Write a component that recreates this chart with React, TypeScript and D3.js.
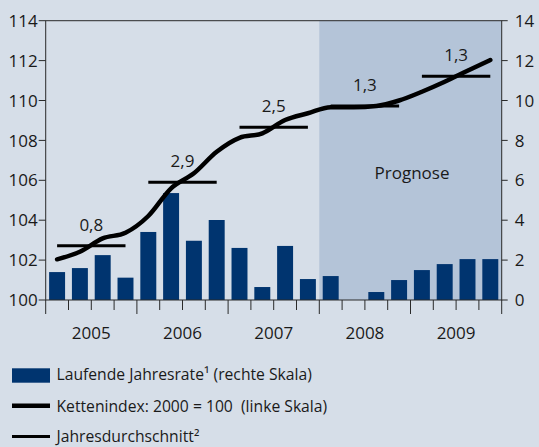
import { useMemo } from "react";
import * as d3 from "d3";

const W = 539;
const H = 447;
const PLOT = { left: 45.7, right: 501.7, top: 20.7, bottom: 300 };
const FONT = "'Open Sans', 'DejaVu Sans', sans-serif";

const BG = "#d6dee8";
const PROG = "#b4c4d8";
const BAR = "#00346f";
const AXIS = "#2a2a2a";

const years = ["2005", "2006", "2007", "2008", "2009"];
const quarterNames = ["Q1", "Q2", "Q3", "Q4"];

// laufende Jahresrate (rechte Skala), quarterly
const rate = [
  1.4, 1.6, 2.25, 1.12,
  3.41, 5.36, 2.97, 4.01,
  2.61, 0.65, 2.71, 1.05,
  1.2, 0, 0.4, 1.0,
  1.5, 1.8, 2.05, 2.05,
];

// Kettenindex 2000 = 100 (linke Skala), quarterly
const chainIndex = [
  102.04, 102.42, 103.09, 103.37,
  104.21, 105.6, 106.35, 107.43,
  108.13, 108.35, 109.02, 109.36,
  109.66, 109.66, 109.72, 110.0,
  110.44, 110.94, 111.49, 112.03,
];

// Jahresdurchschnitt (level on left scale) and its label
const yearAvg = [102.72, 105.9, 108.66, 109.72, 111.21];
const yearAvgLabels = ["0,8", "2,9", "2,5", "1,3", "1,3"];

const leftTicks = [100, 102, 104, 106, 108, 110, 112, 114];
const rightTicks = [0, 2, 4, 6, 8, 10, 12, 14];
const forecastFrom = "2008";

const App = () => {
  const quarters = useMemo(
    () => years.flatMap((y) => quarterNames.map((q) => `${y}-${q}`)),
    []
  );

  const xScale = useMemo(
    () =>
      d3
        .scaleBand()
        .domain(quarters)
        .range([PLOT.left, PLOT.right])
        .paddingInner(0.3)
        .paddingOuter(0.15),
    [quarters]
  );
  const step = xScale.step();
  const cx = (q: string) => (xScale(q) as number) + xScale.bandwidth() / 2;
  const yearStart = (i: number) => PLOT.left + i * 4 * step;

  const yLeft = d3.scaleLinear().domain([100, 114]).range([PLOT.bottom, PLOT.top]);
  const yRight = d3.scaleLinear().domain([0, 14]).range([PLOT.bottom, PLOT.top]);

  const linePath = d3
    .line<number>()
    .x((_, i) => cx(quarters[i]))
    .y((d) => yLeft(d))
    .curve(d3.curveMonotoneX)(chainIndex) as string;

  const progX = yearStart(years.indexOf(forecastFrom));

  const boundaries = d3.range(0, quarters.length + 1);

  return (
    <svg
      width={W}
      height={H}
      style={{ position: "absolute", left: 0, top: 0, fontFamily: FONT }}
    >
      <rect x={0} y={0} width={W} height={H} fill={BG} />
      <rect
        x={progX}
        y={PLOT.top}
        width={PLOT.right - progX}
        height={PLOT.bottom - PLOT.top}
        fill={PROG}
      />
      <text x={412} y={179} textAnchor="middle" fontSize={17} fill="#1a1a1a">
        Prognose
      </text>

      {/* bars */}
      {rate.map((v, i) =>
        v > 0 ? (
          <rect
            key={i}
            x={xScale(quarters[i])}
            y={yRight(v)}
            width={xScale.bandwidth()}
            height={PLOT.bottom - yRight(v)}
            fill={BAR}
          />
        ) : null
      )}

      {/* frame */}
      <rect
        x={PLOT.left}
        y={PLOT.top}
        width={PLOT.right - PLOT.left}
        height={PLOT.bottom - PLOT.top}
        fill="none"
        stroke={AXIS}
        strokeWidth={1}
      />

      {/* x ticks */}
      {boundaries.map((b) => {
        const x = PLOT.left + b * step;
        const major = b % 4 === 0;
        return (
          <line
            key={b}
            x1={x}
            x2={x}
            y1={PLOT.bottom}
            y2={PLOT.bottom + (major ? 14 : 10)}
            stroke={AXIS}
            strokeWidth={1}
          />
        );
      })}
      {years.map((y, i) => (
        <text
          key={y}
          x={yearStart(i) + 2 * step}
          y={339}
          textAnchor="middle"
          fontSize={17}
          fill="#1a1a1a"
        >
          {y}
        </text>
      ))}

      {/* left axis */}
      {leftTicks.map((t) => (
        <g key={t}>
          <line
            x1={PLOT.left - 7}
            x2={PLOT.left}
            y1={yLeft(t)}
            y2={yLeft(t)}
            stroke={AXIS}
          />
          <text
            x={PLOT.left - 8}
            y={yLeft(t)}
            dy="0.36em"
            textAnchor="end"
            fontSize={17}
            fill="#1a1a1a"
          >
            {t}
          </text>
        </g>
      ))}

      {/* right axis */}
      {rightTicks.map((t) => (
        <g key={t}>
          <line
            x1={PLOT.right}
            x2={PLOT.right + 6}
            y1={yRight(t)}
            y2={yRight(t)}
            stroke={AXIS}
          />
          <text
            x={PLOT.right + 13}
            y={yRight(t)}
            dy="0.36em"
            textAnchor="start"
            fontSize={17}
            fill="#1a1a1a"
          >
            {t}
          </text>
        </g>
      ))}

      {/* yearly averages */}
      {yearAvg.map((v, i) => (
        <g key={i}>
          <line
            x1={cx(quarters[i * 4])}
            x2={cx(quarters[i * 4 + 3])}
            y1={yLeft(v)}
            y2={yLeft(v)}
            stroke="#000"
            strokeWidth={3}
          />
          <text
            x={yearStart(i) + 2 * step}
            y={yLeft(v) - 15}
            textAnchor="middle"
            fontSize={17}
            fill="#1a1a1a"
          >
            {yearAvgLabels[i]}
          </text>
        </g>
      ))}

      {/* index line */}
      <path
        d={linePath}
        fill="none"
        stroke="#000"
        strokeWidth={4.5}
        strokeLinecap="round"
        strokeLinejoin="round"
      />

      {/* legend */}
      <rect x={12} y={368.3} width={38} height={14.4} fill={BAR} />
      <text x={56.5} y={380} fontSize={15.7} fill="#1a1a1a">
        Laufende Jahresrate¹ (rechte Skala)
      </text>
      <line x1={12} x2={50} y1={405.7} y2={405.7} stroke="#000" strokeWidth={4.5} />
      <text x={56.5} y={412} fontSize={15.7} fill="#1a1a1a" style={{ whiteSpace: "pre" }}>
        {"Kettenindex: 2000 = 100  (linke Skala)"}
      </text>
      <line x1={12} x2={50} y1={436.5} y2={436.5} stroke="#000" strokeWidth={3} />
      <text x={56.5} y={441.5} fontSize={15.7} fill="#1a1a1a">
        Jahresdurchschnitt²
      </text>
    </svg>
  );
};

export default App;
